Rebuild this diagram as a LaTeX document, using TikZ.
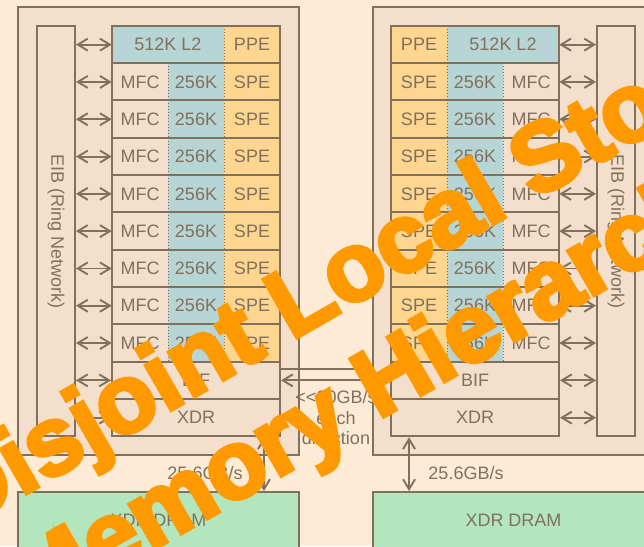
\documentclass[tikz,border=0pt]{standalone}
\usepackage{fontspec}
\setmainfont{Liberation Sans}
\newfontfamily\stampfont[FakeBold=4]{Liberation Sans Bold}
\usepackage{xcolor}
\usetikzlibrary{arrows.meta}
\definecolor{bgcolor}{RGB}{254,235,214}
\definecolor{chipcolor}{RGB}{243,223,203}
\definecolor{linecolor}{RGB}{128,112,93}
\definecolor{storecolor}{RGB}{184,213,213}
\definecolor{corecolor}{RGB}{255,214,143}
\definecolor{dramcolor}{RGB}{180,230,190}
\definecolor{markcolor}{RGB}{255,153,0}

\begin{document}
\begin{tikzpicture}[x=1pt, y=-1pt,
  chip/.style={rectangle, draw=linecolor, fill=chipcolor, line width=1.9pt,
               minimum width=281pt, minimum height=448pt, inner sep=0pt},
  bus/.style={rectangle, draw=linecolor, fill=chipcolor, line width=1.9pt,
              minimum width=38pt, minimum height=410.3pt, inner sep=0pt},
  cell/.style={rectangle, inner sep=0pt, minimum width=56pt, minimum height=37.3pt,
               text=linecolor, font=\fontsize{18}{20}\selectfont},
  wide/.style={cell, minimum width=112pt},
  full/.style={cell, minimum width=168pt, fill=chipcolor},
  frame/.style={draw=linecolor, line width=1.9pt},
  divider/.style={draw=linecolor, dotted, line width=1pt},
  tip/.style={Straight Barb[length=10pt,width=12pt,line width=1.9pt]},
  link/.style={draw=linecolor, line width=1.9pt, {Straight Barb[length=10pt,width=12pt]}-{Straight Barb[length=10pt,width=12pt]}},
  note/.style={text=linecolor, font=\fontsize{18}{20.5}\selectfont, inner sep=0pt},
  dram/.style={rectangle, draw=linecolor, fill=dramcolor, line width=1.9pt,
               minimum width=281pt, minimum height=56pt, text=linecolor,
               font=\fontsize{18}{20}\selectfont}
]
\fill[bgcolor] (0,0) rectangle (644,546);
\useasboundingbox (0,0) rectangle (644,546);

% the two chips
\node[chip] (lchip) at (158.5,231) {};
\node[chip] (rchip) at (513.5,231) {};
\node[bus] (leib) at (56,231.15) {};
\node[bus] (reib) at (616,231.15) {};
\node[note, rotate=-90] at (leib) {EIB (Ring Network)};
\node[note, rotate=-90] at (reib) {EIB (Ring Network)};

% PPE row
\node[wide, fill=storecolor] (ll2) at (168,44.65) {512K L2};
\node[cell, fill=corecolor] (lppe) at (252,44.65) {PPE};
\node[cell, fill=corecolor] (rppe) at (419,44.65) {PPE};
\node[wide, fill=storecolor] (rl2) at (503,44.65) {512K L2};
\draw[divider] (ll2.north east) -- (ll2.south east);
\draw[divider] (rppe.north east) -- (rppe.south east);
\draw[frame] (ll2.north west) rectangle (lppe.south east);
\draw[frame] (rppe.north west) rectangle (rl2.south east);
\draw[link] (leib.east |- ll2.west) -- (ll2.west);
\draw[link] (rl2.east) -- (reib.west |- rl2.east);

% SPE rows
\foreach \i in {1,...,8}{
  \pgfmathsetmacro\rowy{44.65+37.3*\i}
  \node[cell, fill=chipcolor] (lmfc\i) at (140,\rowy) {MFC};
  \node[cell, fill=storecolor] (lls\i) at (196,\rowy) {256K};
  \node[cell, fill=corecolor] (lspe\i) at (252,\rowy) {SPE};
  \node[cell, fill=corecolor] (rspe\i) at (419,\rowy) {SPE};
  \node[cell, fill=storecolor] (rls\i) at (475,\rowy) {256K};
  \node[cell, fill=chipcolor] (rmfc\i) at (531,\rowy) {MFC};
  \draw[divider] (lmfc\i.north east) -- (lmfc\i.south east);
  \draw[divider] (lls\i.north east) -- (lls\i.south east);
  \draw[divider] (rspe\i.north east) -- (rspe\i.south east);
  \draw[divider] (rls\i.north east) -- (rls\i.south east);
  \draw[frame] (lmfc\i.north west) rectangle (lspe\i.south east);
  \draw[frame] (rspe\i.north west) rectangle (rmfc\i.south east);
  \draw[link] (leib.east |- lmfc\i.west) -- (lmfc\i.west);
  \draw[link] (rmfc\i.east) -- (reib.west |- rmfc\i.east);
}

% BIF and XDR rows
\node[full, frame] (lbif) at (196,380.35) {BIF};
\node[full, frame] (lxdr) at (196,417.65) {XDR};
\node[full, frame] (rbif) at (475,380.35) {BIF};
\node[full, frame] (rxdr) at (475,417.65) {XDR};
\draw[link] (leib.east |- lbif.west) -- (lbif.west);
\draw[link] (leib.east |- lxdr.west) -- (lxdr.west);
\draw[link] (rbif.east) -- (reib.west |- rbif.east);
\draw[link] (rxdr.east) -- (reib.west |- rxdr.east);

% chip to chip
\coordinate (bifout) at ([yshift=11pt]lbif.east);
\draw[frame] (bifout) -- (bifout -| rchip.west);
\draw[frame, -{Straight Barb[length=10pt,width=12pt]}] (rbif.west) -- (lbif.east);
\node[note, align=center] (bwnote) at (336,418) {<{}<20GB/s\\each\\direction};

% memory
\node[dram] (lram) at (158.5,520) {XDR DRAM};
\node[dram] (rram) at (513.5,520) {XDR DRAM};
\draw[link] ([xshift=-17pt]lxdr.south east) -- ([xshift=-17pt]lxdr.south east |- lram.north);
\draw[link] ([xshift=19pt]rxdr.south west) -- ([xshift=19pt]rxdr.south west |- rram.north);
\node[note] (lbw) at (205,473) {25.6GB/s};
\node[note] (rbw) at (466,473) {25.6GB/s};

% overlay
\node[text=markcolor, font=\stampfont\fontsize{97}{112}\selectfont, align=center,
      rotate=30, inner sep=0pt] (stamp) at (370,331)
      {Disjoint Local Store\\\hspace*{-26pt}Memory Hierarchy};
\end{tikzpicture}
\end{document}
